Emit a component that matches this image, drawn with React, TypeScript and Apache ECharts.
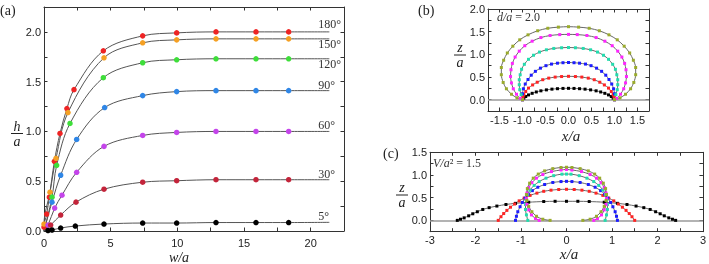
import React, { useEffect, useRef } from "react";
import * as echarts from "echarts";

// ---------- Panel (a): h/a versus w/a ----------
const aAngles = ["180°", "150°", "120°", "90°", "60°", "30°", "5°"];
const aPlateau = [2.0, 1.93, 1.73, 1.41, 1.0, 0.515, 0.087];
const aEndX = 21.4;

const a180x = [0, 0.2, 0.4, 0.78, 1.2, 1.72, 2.25, 4.45, 7.4, 9.95, 12.9, 15.9, 18.35];
const a180y = [0.04, 0.17, 0.34, 0.7, 0.98, 1.23, 1.42, 1.81, 1.96, 1.99, 2.0, 2.0, 2.0];
const a150x = [0, 0.45, 0.9, 1.8, 4.5, 7.4, 9.95, 12.9, 15.9, 18.35];
const a150y = [0.07, 0.39, 0.73, 1.19, 1.74, 1.89, 1.92, 1.93, 1.93, 1.93];
const a120x = [0.6, 0.95, 1.95, 4.45, 7.4, 9.95, 12.9, 15.9, 18.35];
const a120y = [0.34, 0.66, 1.08, 1.54, 1.69, 1.72, 1.73, 1.73, 1.73];
const a90x = [0.6, 1.25, 2.45, 4.55, 7.4, 9.95, 12.9, 15.9, 18.35];
const a90y = [0.29, 0.56, 0.92, 1.24, 1.36, 1.4, 1.41, 1.41, 1.41];
const a60x = [0.3, 0.8, 1.35, 2.45, 4.5, 7.4, 9.95, 12.9, 15.9, 18.35];
const a60y = [0.06, 0.23, 0.36, 0.59, 0.85, 0.96, 0.99, 1.0, 1.0, 1.0];
const a30x = [0.5, 1.25, 2.4, 4.5, 7.4, 9.95, 12.9, 15.9, 18.35];
const a30y = [0.06, 0.16, 0.29, 0.42, 0.49, 0.505, 0.515, 0.515, 0.515];
const a5x = [0.3, 0.6, 1.25, 2.35, 4.5, 7.4, 9.95, 12.9, 15.9, 18.35];
const a5y = [0.005, 0.01, 0.03, 0.05, 0.07, 0.08, 0.08, 0.085, 0.085, 0.085];

const aX = [a180x, a150x, a120x, a90x, a60x, a30x, a5x];
const aY = [a180y, a150y, a120y, a90y, a60y, a30y, a5y];
const aColors = ["#ee2424", "#f5a023", "#3ede3a", "#2f86e6", "#c444ea", "#c3243a", "#000000"];
const aLabelDy = [-8, 5, 5, -6, -6, -6, -6];

// ---------- Panel (b): profiles, d/a = 2.0 (half profiles x>=0, top -> base) ----------
const bBlack = [[0, 0.25], [0.12, 0.248], [0.24, 0.242], [0.36, 0.232], [0.48, 0.216], [0.6, 0.195], [0.7, 0.17], [0.79, 0.14], [0.87, 0.105], [0.93, 0.07], [0.97, 0.035], [1.0, 0]];
const bRed = [[0, 0.515], [0.15, 0.51], [0.29, 0.498], [0.43, 0.475], [0.56, 0.44], [0.68, 0.385], [0.78, 0.325], [0.87, 0.255], [0.93, 0.18], [0.97, 0.11], [0.99, 0.05], [1.0, 0]];
const bBlue = [[0, 0.82], [0.12, 0.815], [0.24, 0.805], [0.37, 0.785], [0.49, 0.75], [0.61, 0.695], [0.72, 0.625], [0.81, 0.54], [0.88, 0.445], [0.94, 0.345], [0.98, 0.24], [1.0, 0.13], [1.0, 0]];
const bTeal = [[0, 1.15], [0.15, 1.145], [0.32, 1.13], [0.48, 1.1], [0.63, 1.05], [0.76, 0.98], [0.87, 0.89], [0.96, 0.78], [1.02, 0.67], [1.05, 0.55], [1.07, 0.44], [1.07, 0.33], [1.06, 0.22], [1.03, 0.11], [1.0, 0]];
const bMagenta = [[0, 1.44], [0.19, 1.435], [0.4, 1.415], [0.6, 1.37], [0.79, 1.29], [0.95, 1.19], [1.07, 1.07], [1.16, 0.94], [1.22, 0.8], [1.25, 0.66], [1.26, 0.51], [1.24, 0.37], [1.2, 0.24], [1.13, 0.12], [1.05, 0.03], [1.0, 0]];
const bOlive = [[0, 1.61], [0.22, 1.6], [0.45, 1.575], [0.67, 1.52], [0.88, 1.43], [1.06, 1.32], [1.21, 1.18], [1.33, 1.03], [1.41, 0.87], [1.46, 0.71], [1.46, 0.55], [1.42, 0.38], [1.35, 0.24], [1.24, 0.12], [1.12, 0.04], [1.0, 0]];

// ---------- Panel (c): profiles, V/a^2 = 1.5 ----------
const cBlack = [[0, 0.42], [0.25, 0.42], [0.5, 0.415], [0.83, 0.4], [1.12, 0.375], [1.33, 0.35], [1.53, 0.315], [1.7, 0.28], [1.84, 0.24], [1.96, 0.19], [2.06, 0.145], [2.15, 0.1], [2.25, 0.055], [2.33, 0.025], [2.4, 0]];
const cRed = [[0, 0.685], [0.17, 0.68], [0.34, 0.665], [0.5, 0.64], [0.65, 0.6], [0.8, 0.55], [0.93, 0.49], [1.04, 0.43], [1.14, 0.36], [1.23, 0.29], [1.31, 0.22], [1.38, 0.15], [1.44, 0.08], [1.5, 0]];
const cBlue = [[0, 0.86], [0.12, 0.855], [0.3, 0.835], [0.48, 0.79], [0.63, 0.73], [0.75, 0.655], [0.84, 0.575], [0.91, 0.49], [0.97, 0.395], [1.02, 0.3], [1.07, 0.19], [1.1, 0.09], [1.12, 0]];
const cTeal = [[0, 1.02], [0.1, 1.018], [0.28, 0.985], [0.45, 0.93], [0.6, 0.855], [0.71, 0.77], [0.8, 0.67], [0.86, 0.57], [0.89, 0.46], [0.9, 0.35], [0.9, 0.24], [0.88, 0.12], [0.85, 0]];
const cMagenta = [[0, 1.12], [0.12, 1.11], [0.33, 1.075], [0.52, 1.01], [0.66, 0.93], [0.76, 0.83], [0.83, 0.72], [0.87, 0.6], [0.88, 0.48], [0.87, 0.35], [0.83, 0.23], [0.77, 0.12], [0.68, 0.04], [0.6, 0]];
const cOlive = [[0, 1.17], [0.12, 1.165], [0.3, 1.14], [0.48, 1.09], [0.62, 1.02], [0.73, 0.93], [0.81, 0.82], [0.86, 0.7], [0.88, 0.57], [0.87, 0.44], [0.83, 0.31], [0.76, 0.19], [0.66, 0.09], [0.52, 0.025], [0.36, 0]];

const profileColors = ["#000000", "#ff2424", "#1c1cff", "#22dcae", "#ff24ff", "#9aab2c"];
const bProfiles = [bBlack, bRed, bBlue, bTeal, bMagenta, bOlive];
const cProfiles = [cBlack, cRed, cBlue, cTeal, cMagenta, cOlive];

const SANS = "Liberation Sans";
const SERIF = "Liberation Serif";

function mirror(half: number[][]) {
  const left = half.slice().reverse().map(([x, y]) => [-x, y]);
  return left.concat(half.slice(1));
}

function fmt(step: number, dec: number) {
  return (v: number) => {
    const k = v / step;
    return Math.abs(k - Math.round(k)) < 1e-6 ? (Math.round(k) * step).toFixed(dec) : "";
  };
}

function axis(
  dim: "x" | "y",
  grid: number,
  min: number,
  max: number,
  interval: number,
  position: string,
  label: boolean,
  step: number,
  dec: number,
  margin: number
) {
  return {
    type: "value",
    gridIndex: grid,
    min,
    max,
    interval,
    position,
    axisLine: { show: true, onZero: false, lineStyle: { color: "#333", width: 1 } },
    axisTick: { show: true, inside: true, length: 3.5, lineStyle: { color: "#333", width: 1 } },
    axisLabel: {
      show: label,
      margin,
      fontFamily: SANS,
      fontSize: 11,
      color: "#222",
      formatter: fmt(step, dec),
      showMinLabel: true,
      showMaxLabel: true,
    },
    splitLine: { show: false },
  };
}

function frac(cx: number, topY: number, barY: number, botY: number, top: string, bot: string) {
  const font = `italic 14px "${SERIF}"`;
  return [
    { type: "text", x: cx, y: topY, style: { text: top, font, fill: "#222", align: "center", verticalAlign: "middle" } },
    { type: "line", shape: { x1: cx - 6, y1: barY, x2: cx + 6, y2: barY }, style: { stroke: "#222", lineWidth: 1 } },
    { type: "text", x: cx, y: botY, style: { text: bot, font, fill: "#222", align: "center", verticalAlign: "middle" } },
  ];
}

export default function App() {
  const ref = useRef<HTMLDivElement>(null);
  useEffect(() => {
    if (!ref.current) return;
    const chart = echarts.init(ref.current, undefined, { renderer: "svg" });

    const series: any[] = [];
    // panel (a)
    aX.forEach((xs, i) => {
      const data: any[] = [{ value: [0, 0], symbol: "none" }];
      xs.forEach((x, j) => data.push([x, aY[i][j]]));
      data.push({ value: [aEndX, aPlateau[i]], symbol: "none" });
      series.push({
        type: "line",
        xAxisIndex: 0,
        yAxisIndex: 0,
        data,
        smooth: 0.35,
        symbol: "circle",
        symbolSize: 5.5,
        itemStyle: { color: aColors[i] },
        lineStyle: { color: "#555", width: 1 },
        z: 3,
      });
    });
    series.push({
      type: "scatter",
      xAxisIndex: 0,
      yAxisIndex: 0,
      symbolSize: 1,
      itemStyle: { color: "rgba(0,0,0,0)" },
      data: aAngles.map((t, i) => ({
        value: [aEndX, aPlateau[i]],
        label: {
          show: true,
          formatter: t,
          position: "inside",
          align: "left",
          verticalAlign: "middle",
          offset: [-11, aLabelDy[i]],
          fontFamily: SERIF,
          fontSize: 12,
          color: "#333",
          opacity: 1,
        },
      })),
      z: 5,
    });

    // panels (b) and (c)
    const addProfiles = (profiles: number[][][], axisIdx: number) => {
      profiles.forEach((half, i) => {
        series.push({
          type: "line",
          xAxisIndex: axisIdx,
          yAxisIndex: axisIdx,
          data: mirror(half),
          smooth: 0.3,
          symbol: "rect",
          symbolSize: 3,
          itemStyle: { color: profileColors[i] },
          lineStyle: { color: "#666", width: 1 },
          z: 3,
          markLine:
            i === 0
              ? {
                  silent: true,
                  symbol: "none",
                  label: { show: false },
                  lineStyle: { color: "#9a9a9a", width: 1.5, type: "solid" },
                  data: [{ yAxis: 0 }],
                  z: 2,
                }
              : undefined,
        });
      });
    };
    addProfiles(bProfiles, 2);
    addProfiles(cProfiles, 4);

    const option: any = {
      animation: false,
      grid: [
        { left: 44, top: 7, width: 300, height: 224 },
        { left: 488, top: 9, width: 161, height: 102 },
        { left: 430, top: 152.3, width: 275, height: 79.4 },
      ],
      xAxis: [
        axis("x", 0, 0, 22.5, 2.5, "bottom", true, 5, 0, 6),
        axis("x", 0, 0, 22.5, 2.5, "top", false, 5, 0, 6),
        axis("x", 1, -1.75, 1.75, 0.25, "bottom", true, 0.5, 1, 3),
        axis("x", 1, -1.75, 1.75, 0.25, "top", false, 0.5, 1, 3),
        axis("x", 2, -3, 3, 0.5, "bottom", true, 1, 0, 3),
        axis("x", 2, -3, 3, 0.5, "top", false, 1, 0, 3),
      ],
      yAxis: [
        axis("y", 0, 0, 2.25, 0.25, "left", true, 0.5, 1, 3),
        axis("y", 0, 0, 2.25, 0.25, "right", false, 0.5, 1, 3),
        axis("y", 1, -0.25, 2.0, 0.25, "left", true, 0.5, 1, 3),
        axis("y", 1, -0.25, 2.0, 0.25, "right", false, 0.5, 1, 3),
        axis("y", 2, -0.25, 1.5, 0.25, "left", true, 0.5, 1, 3),
        axis("y", 2, -0.25, 1.5, 0.25, "right", false, 0.5, 1, 3),
      ],
      series,
      graphic: [
        { type: "text", x: 0, y: 10, style: { text: "(a)", font: `14px "${SERIF}"`, fill: "#222", verticalAlign: "middle" } },
        { type: "text", x: 418, y: 10, style: { text: "(b)", font: `14px "${SERIF}"`, fill: "#222", verticalAlign: "middle" } },
        { type: "text", x: 383, y: 153, style: { text: "(c)", font: `14px "${SERIF}"`, fill: "#222", verticalAlign: "middle" } },
        ...frac(17, 126, 133.5, 141, "h", "a"),
        ...frac(460, 47.5, 55, 62.5, "z", "a"),
        ...frac(402, 187.5, 195, 202.5, "z", "a"),
        { type: "text", x: 179, y: 257, style: { text: "w/a", font: `italic 14px "${SERIF}"`, fill: "#222", align: "center", verticalAlign: "middle" } },
        { type: "text", x: 571, y: 135.5, style: { text: "x/a", font: `italic 15px "${SERIF}"`, fill: "#222", align: "center", verticalAlign: "middle" } },
        { type: "text", x: 569, y: 253.5, style: { text: "x/a", font: `italic 15px "${SERIF}"`, fill: "#222", align: "center", verticalAlign: "middle" } },
        {
          type: "text",
          x: 497,
          y: 17,
          style: {
            text: "{i|d/a}{r| = 2.0}",
            verticalAlign: "middle",
            rich: {
              i: { fontFamily: SERIF, fontStyle: "italic", fontSize: 12, fill: "#333", color: "#333" },
              r: { fontFamily: SERIF, fontSize: 12, fill: "#333", color: "#333" },
            },
          },
        },
        {
          type: "text",
          x: 433,
          y: 163,
          style: {
            text: "{i|V/a}{r|² = 1.5}",
            verticalAlign: "middle",
            rich: {
              i: { fontFamily: SERIF, fontStyle: "italic", fontSize: 12, fill: "#333", color: "#333" },
              r: { fontFamily: SERIF, fontSize: 12, fill: "#333", color: "#333" },
            },
          },
        },
      ],
    };
    chart.setOption(option);
    return () => chart.dispose();
  }, []);
  return <div ref={ref} style={{ position: "fixed", left: 0, top: 0, width: 709, height: 264 }} />;
}
